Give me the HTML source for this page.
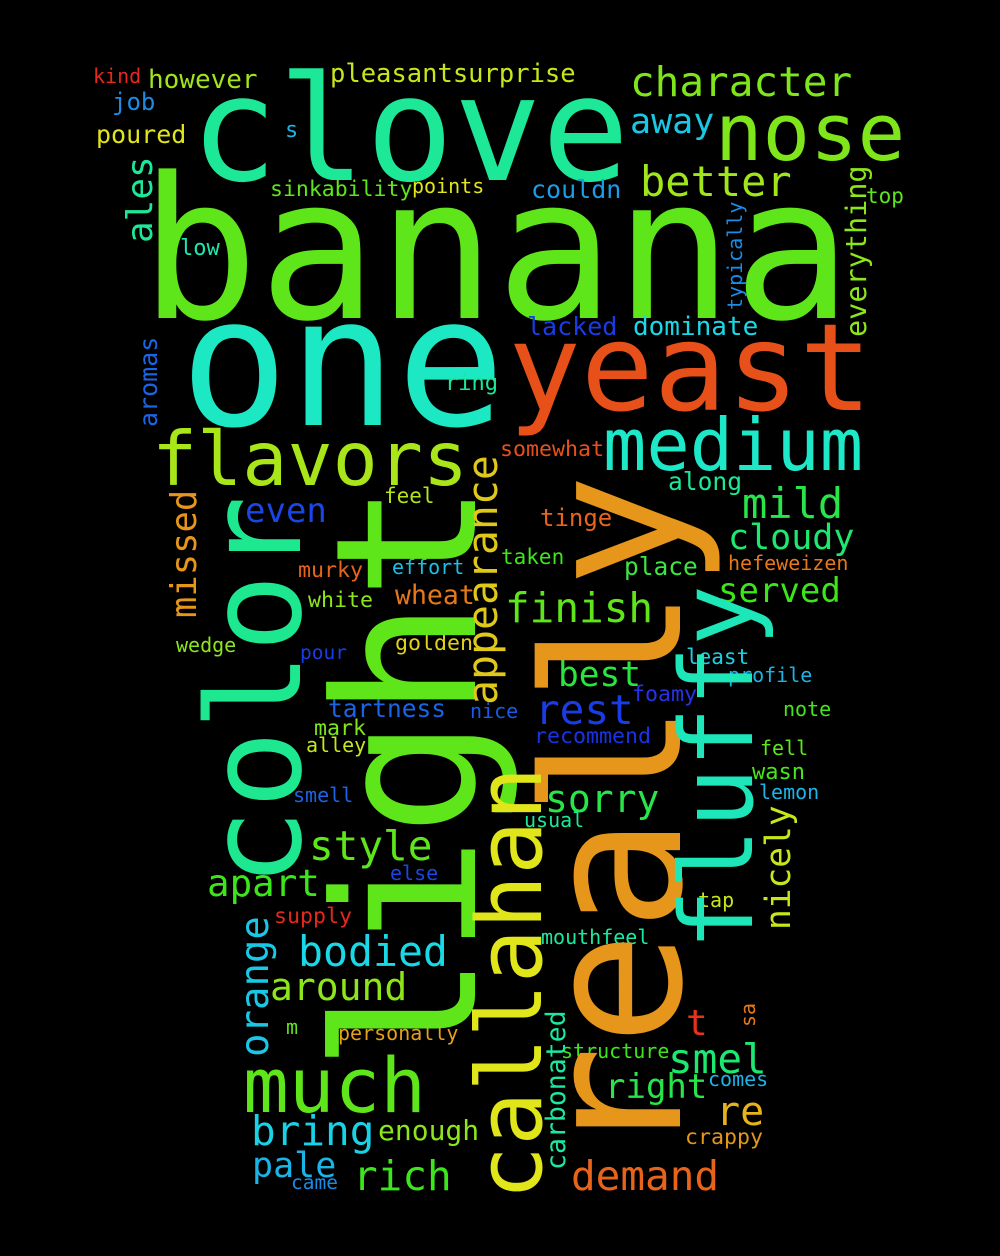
<!DOCTYPE html>
<html><head><meta charset="utf-8">
<style>
html,body{margin:0;padding:0;background:#000;}
svg{display:block;}
text{font-family:"DejaVu Sans Mono","Liberation Mono",monospace;}
</style></head>
<body>
<svg id="cloud" width="1000" height="1256" viewBox="0 0 1000 1256" xmlns="http://www.w3.org/2000/svg">
<rect width="1000" height="1256" fill="#000"/>
</svg>
<script>
const words = ["banana","clove","one","yeast","nose","character","away","better","pleasantsurprise","however","kind","job","poured","s","sinkability","points","couldn","top","low","lacked","dominate","medium","flavors","ring","somewhat","even","mild","along","feel","tinge","cloudy","finish","taken","hefeweizen","effort","murky","place","served","wheat","white","wedge","pour","golden","least","best","profile","foamy","rest","tartness","nice","note","mark","recommend","alley","fell","wasn","lemon","smell","sorry","usual","style","apart","else","tap","supply","mouthfeel","bodied","around","t","m","personally","smel","structure","much","comes","right","re","enough","bring","crappy","pale","rich","demand","came",
"light","really","color","fluffy","callahan","appearance","missed","ales","aromas","everything","typically","orange","nicely","carbonated","sa"];
const sizes = [197,146,180,121,79,41,35,42,25.5,26,20,24,25,22,21.5,20,25,21,22,25,26,72,75,22,21.6,34,42,24.6,21,24,35,41,21,20,20,21.6,24.5,34,26.5,21.6,20,19.5,21.6,21,34.5,20,21.6,41,24.5,20,20,21.6,21.6,20,20,22,20,20,38,20,41,37.5,20,20,21.6,20,41.5,38,36,20,20,41,20,76,20,34,40,28,41,21.6,35,41,41,19.5,
196,190,130,101,90,41.5,35.5,36,25,28.5,20,39,34.5,26.5,20];
const xs = [140,190,180,508,715,630,630,640,330,148,93,112,96,285,270,412,531,866,180,527,633,603,152,445,500,245,742,668,384,540,728,505,501,728,392,298,624,718,395,308,176,300,395,686,558,728,632,535,328,470,783,314,534,306,760,752,759,293,545,524,309,207,390,698,274,541,298,270,686,286,338,668,561,243,708,605,716,378,251,685,252,353,571,291,
475,680,300,752,541,497,196,152,157,866,742,268,790,565,755];
const ys = [318,180,425,410,160,96,133,196,82,88,83,110,143,137,196,193,198,203,255,335,335,470,485,390,456,522,518,490,503,526,549,622,564,570,574,577,575,602,604,607,652,659,650,664,686,682,701,724,717,718,716,735,743,752,755,779,799,802,812,827,860,896,880,907,923,944,966,1000,1035,1034,1040,1073,1058,1112,1086,1098,1125,1140,1145,1144,1177,1190,1190,1189,
1072,1160,887,950,1200,705,618,243,427,337,310,1057,930,1170,1027];
const rots = [0,0,0,0,0,0,0,0,0,0,0,0,0,0,0,0,0,0,0,0,0,0,0,0,0,0,0,0,0,0,0,0,0,0,0,0,0,0,0,0,0,0,0,0,0,0,0,0,0,0,0,0,0,0,0,0,0,0,0,0,0,0,0,0,0,0,0,0,0,0,0,0,0,0,0,0,0,0,0,0,0,0,0,0,
-90,-90,-90,-90,-90,-90,-90,-90,-90,-90,-90,-90,-90,-90,-90];
const colors = ["#5ee61a","#1de898","#1de8c4","#e8501a","#7ee61a","#7ee61a","#1ac8e6","#a0e61a","#c8e61a","#a0e61a","#e6281a","#1a8ce6","#e0e61a","#1ab4e6","#5ee61a","#e0e61a","#1a9ce6","#5ee61a","#1de8b0","#1a3ce6","#1ad8e6","#1de8c8","#a8e61a","#1de898","#e8501a","#1a46e6","#28e64a","#1de898","#b4e61a","#e8641a","#1de870","#5ee61a","#3ce61a","#e6781a","#1ac0e6","#e8641a","#3ce640","#3ce61a","#e6781a","#8ce61a","#8ce61a","#1a3ce6","#e0d21a","#1ad0e6","#28e640","#1ab4e6","#2832e6","#1a3ce6","#1a64e6","#1a5ae6","#46e61a","#7ee61a","#1a32e6","#c8e61a","#5ee61a","#46e61a","#1ab4e6","#1a64e6","#28e64a","#1de898","#5ee61a","#3ce61a","#1a46e6","#c8e61a","#e6281a","#1de8a0","#1ad8e6","#8ce61a","#e6321a","#5ee61a","#e6a01a","#1de870","#3ce61a","#5ee61a","#1ab4e6","#28e64a","#e6b41a","#8ce61a","#1ad2e6","#e6961a","#1ab4e6","#3ce61a","#e8641a","#1a8ce6",
"#5ee61a","#e6961a","#1de890","#1de6b8","#e0e61a","#e0c81a","#e6961a","#1de898","#1a64e6","#8ce61a","#1a8ce6","#1ac8e6","#c8e61a","#1de8a0","#e6781a"];
const svg = document.getElementById('cloud');
const NS = "http://www.w3.org/2000/svg";
for (let i = 0; i < words.length; i++) {
  const t = document.createElementNS(NS, 'text');
  
  
  t.setAttribute('x', xs[i]);
  t.setAttribute('y', ys[i]);
  t.setAttribute('font-size', sizes[i]);
  t.setAttribute('fill', colors[i]);
  if (rots[i]) t.setAttribute('transform', 'rotate(' + rots[i] + ' ' + xs[i] + ' ' + ys[i] + ')');
  t.textContent = words[i];
  svg.appendChild(t);
}
</script>
</body></html>
